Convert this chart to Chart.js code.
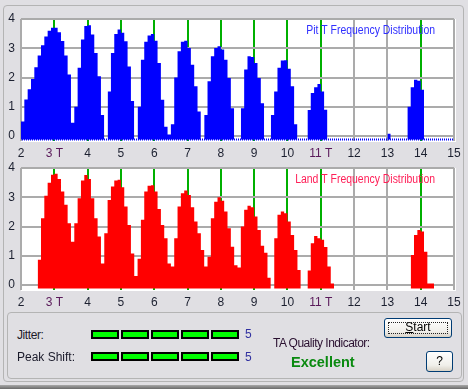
<!DOCTYPE html>
<html>
<head>
<meta charset="utf-8">
<title>T Frequency Distribution</title>
<script src="https://cdn.jsdelivr.net/npm/chart.js"></script>
<style>
	body { margin:0; background:#e0dfe3; }
	#wrap { position:relative; width:468px; height:389px; overflow:hidden; background:#e0dfe3;
		font-family:'Liberation Sans',Arial,sans-serif; font-size:12px; }
	canvas { position:absolute; left:0; }
	#pit { top:0; }
	#land { top:149px; }
	.frame { position:absolute; box-sizing:border-box; border:1px solid #b4b4b4; border-radius:4px; }
	.lbl { position:absolute; height:14px; line-height:14px; white-space:nowrap; }
	.led { position:absolute; box-sizing:border-box; width:28px; height:9px; border:2px solid #000; background:#00ff00; }
	.btn { position:absolute; box-sizing:border-box; border:1px solid #003c74; border-radius:3px;
		background:linear-gradient(#ffffff, #f0efea 70%, #d8d2c6); color:#000; text-align:center; font-size:12px; }
	.focus { position:absolute; left:3px; top:3px; right:3px; bottom:3px; border:1px dotted #222; }
	#bottomEdge { position:absolute; left:0; top:385px; width:468px; height:4px; background:linear-gradient(#a8a8a8,#6a6a6a); }
</style>
</head>
<body>
<div id="wrap">
	<div class="frame" style="left:3px;top:5px;width:461px;height:377px;"></div>
	<div class="frame" style="left:7px;top:312px;width:455px;height:67px;"></div>

	<canvas id="pit" width="468" height="165"></canvas>
	<canvas id="land" width="468" height="165"></canvas>

	<div class="lbl" style="left:17px;top:328px;color:#1a1a2a;letter-spacing:-0.4px;">Jitter:</div>
	<div class="lbl" style="left:17px;top:350px;color:#1a1a2a;">Peak Shift:</div>
	<div id="jitterLeds"></div>
	<div id="shiftLeds"></div>
	<div class="lbl" id="jitterVal" style="left:245px;top:327px;color:#3030a0;"></div>
	<div class="lbl" id="shiftVal" style="left:245px;top:350px;color:#3030a0;"></div>

	<div class="lbl" style="left:273px;top:336px;color:#2a1030;letter-spacing:-0.5px;">TA Quality Indicator:</div>
	<div class="lbl" style="left:291px;top:354px;height:16px;line-height:16px;color:#0a8a10;font-weight:bold;font-size:14.5px;">Excellent</div>

	<div class="btn" style="left:384px;top:318px;width:68px;height:20px;line-height:17px;"><div class="focus"></div><u>S</u>tart</div>
	<div class="btn" style="left:426px;top:351px;width:27px;height:21px;line-height:19px;">?</div>
	<div id="bottomEdge"></div>
</div>

<script>
// histogram bins: 0.1 T wide, first bin starts at 2.0 T
var binStart = 2.0;
var binWidth = 0.1;

var tickValues = [2, 3, 4, 5, 6, 7, 8, 9, 10, 11, 12, 13, 14, 15];
var tickLabels = ['2', '3 T', '4', '5', '6', '7', '8', '9', '10', '11 T', '12', '13', '14', '15'];
var peakTicks = [3, 4, 5, 6, 7, 8, 9, 10, 11, 14];
var yTicks = [0, 1, 2, 3, 4];

// one row = one T unit (x.0-x.1 .. x.9-x+1)
var pitCounts = [
	0.5, 1.25, 1.6, 1.95, 2.35, 2.75, 3.1, 3.4, 3.6, 3.7,
	3.7, 3.55, 3.25, 2.75, 2.1, 0.45, 1.0, 2.33, 3.3, 3.76,
	3.79, 3.47, 2.84, 2.04, 0.72, 0, 1.52, 2.84, 3.49, 3.64,
	3.53, 3.24, 2.38, 1.2, 0, 1.0, 2.61, 3.22, 3.44, 3.49,
	3.26, 2.5, 1.24, 0.32, 0.05, 0.4, 2.0, 2.9, 3.22, 3.26,
	3.01, 2.44, 1.7, 0.84, 0, 0.72, 1.87, 2.73, 3.01, 3.07,
	2.96, 2.61, 1.98, 0.95, 0, 0, 0.95, 2.27, 2.73, 2.7,
	2.5, 1.98, 1.12, 0, 0, 0.72, 1.52, 2.33, 2.58, 2.59,
	2.3, 1.7, 0.4, 0, 0, 0, 0.89, 1.47, 1.67, 1.78,
	1.52, 0.9, 0, 0, 0, 0, 0, 0, 0, 0,
	0, 0, 0, 0, 0, 0, 0, 0, 0, 0,
	0.08, 0, 0, 0, 0, 0, 1.0, 1.67, 1.92, 1.89,
	1.58, 0, 0, 0, 0, 0, 0, 0, 0, 0
];
var landCounts = [
	0, 0, 0, 0, 0, 0.86, 2.28, 3.05, 3.5, 3.77,
	3.8, 3.62, 3.2, 2.74, 2.11, 1.48, 2.11, 2.97, 3.57, 3.76,
	3.62, 2.97, 2.28, 1.66, 0.74, 1.77, 2.91, 3.37, 3.57, 3.6,
	3.34, 2.68, 2.05, 1.08, 0.31, 0.9, 2.23, 3.2, 3.39, 3.41,
	3.2, 2.6, 2.05, 1.6, 0.74, 0.63, 1.6, 2.68, 3.14, 3.23,
	3.08, 2.66, 2.17, 1.77, 1.2, 0.63, 0.97, 2.28, 2.85, 3.0,
	2.88, 2.51, 1.94, 1.31, 0.68, 0.6, 2.0, 2.57, 2.71, 2.66,
	2.34, 1.88, 1.34, 1.1, 0.25, 0, 1.6, 2.4, 2.51, 2.45,
	2.17, 1.71, 1.2, 0.51, 0, 0, 0.5, 1.43, 1.68, 1.6,
	1.55, 1.3, 0.63, 0.05, 0, 0, 0, 0, 0, 0,
	0, 0, 0, 0, 0, 0, 0, 0, 0, 0,
	0, 0, 0, 0, 0, 0, 0, 1.03, 1.71, 1.88,
	1.83, 1.14, 0.05, 0.05, 0, 0, 0, 0, 0, 0
];

var jitterLevel = 5;
var peakShiftLevel = 5;

var tickFont = { family: "'Liberation Sans',Arial,sans-serif", size: 12 };
var histBase = -0.12;

function edge(i) { return +(binStart + i * binWidth).toFixed(2); }

// stepped outline: each bin holds its value from its left edge to the next,
// empty bins break the outline so the fill stops there
function toSteps(counts) {
	var pts = [], open = false;
	for (var i = 0; i < counts.length; i++) {
		if (counts[i] > 0) {
			pts.push({ x: edge(i), y: counts[i] });
			open = true;
		} else if (open) {
			pts.push({ x: edge(i), y: counts[i - 1] });
			pts.push({ x: edge(i), y: null });
			open = false;
		}
	}
	if (open) pts.push({ x: edge(counts.length), y: counts[counts.length - 1] });
	return pts;
}

// white plot area, dotted floor line, caption in the top right corner
var plotDecor = {
	id: 'plotDecor',
	beforeDraw: function(chart) {
		var a = chart.chartArea, ctx = chart.ctx;
		ctx.save();
		ctx.fillStyle = '#ffffff';
		ctx.fillRect(a.left, a.top, a.right - a.left + 2, a.bottom - a.top + 1);
		ctx.restore();
	},
	beforeDatasetsDraw: function(chart, args, opts) {
		if (!opts.floor) return;
		var a = chart.chartArea, ctx = chart.ctx;
		ctx.save();
		ctx.strokeStyle = opts.floor;
		ctx.lineWidth = 2;
		ctx.setLineDash([1, 1]);
		ctx.beginPath();
		ctx.moveTo(a.left + 1, a.bottom - 1.5);
		ctx.lineTo(a.right, a.bottom - 1.5);
		ctx.stroke();
		ctx.restore();
	},
	afterDatasetsDraw: function(chart, args, opts) {
		var a = chart.chartArea, ctx = chart.ctx;
		ctx.save();
		ctx.font = "12px 'Liberation Sans',Arial,sans-serif";
		ctx.fillStyle = opts.color;
		ctx.textAlign = 'right';
		ctx.textBaseline = 'middle';
		ctx.translate(a.right - 19, a.top + 12);
		ctx.scale(0.87, 1);
		ctx.fillText(opts.text, 0, 0);
		ctx.restore();
	}
};

function makeChart(id, counts, color, title, titleColor, floorColor) {
	var ctx = document.getElementById(id).getContext('2d');
	return new Chart(ctx, {
		type: 'line',
		data: {
			datasets: [{
				data: toSteps(counts),
				stepped: true,
				spanGaps: false,
				fill: { value: histBase },
				backgroundColor: color,
				borderColor: 'rgba(0,0,0,0)',
				borderWidth: 1,
				pointRadius: 0,
				pointHoverRadius: 0
			}]
		},
		plugins: [plotDecor],
		options: {
			responsive: false,
			animation: false,
			devicePixelRatio: 1,
			layout: { padding: { left: 0, right: 14, top: 19, bottom: 0 } },
			plugins: {
				legend: { display: false },
				tooltip: { enabled: false },
				plotDecor: { text: title, color: titleColor, floor: floorColor }
			},
			scales: {
				x: {
					type: 'linear', min: 2, max: 15, offset: false,
					afterBuildTicks: function(s) { s.ticks = tickValues.map(function(v) { return { value: v }; }); },
					afterFit: function(s) { s.height = 24; },
					grid: {
						offset: false, drawTicks: false, lineWidth: 2,
						color: function(c) { return peakTicks.indexOf(c.tick.value) >= 0 ? '#00b000' : '#ababab'; }
					},
					border: { display: false },
					ticks: {
						padding: 5, autoSkip: false, maxRotation: 0, font: tickFont,
						color: function(c) { return (c.tick.value == 3 || c.tick.value == 11) ? '#5a1a5a' : '#1c2030'; },
						callback: function(v) { return tickLabels[tickValues.indexOf(v)]; }
					}
				},
				y: {
					min: -0.17, max: 4,
					afterBuildTicks: function(s) { s.ticks = yTicks.map(function(v) { return { value: v }; }); },
					afterFit: function(s) { s.width = 21; },
					grid: { drawTicks: false, lineWidth: 2, color: '#ababab' },
					border: { display: false },
					ticks: { padding: 6, font: tickFont, color: '#1c2030' }
				}
			}
		}
	});
}

function drawLeds(boxId, valId, level, top) {
	var box = document.getElementById(boxId);
	for (var i = 0; i < level; i++) {
		var d = document.createElement('div');
		d.className = 'led';
		d.style.left = (91 + i * 30) + 'px';
		d.style.top = top + 'px';
		box.appendChild(d);
	}
	document.getElementById(valId).textContent = level;
}

makeChart('pit', pitCounts, '#0000ff', 'Pit T Frequency Distribution', '#3030ff', '#0000ff');
makeChart('land', landCounts, '#ff0000', 'Land T Frequency Distribution', '#ff2058', null);
drawLeds('jitterLeds', 'jitterVal', jitterLevel, 330);
drawLeds('shiftLeds', 'shiftVal', peakShiftLevel, 352);
</script>
</body>
</html>
